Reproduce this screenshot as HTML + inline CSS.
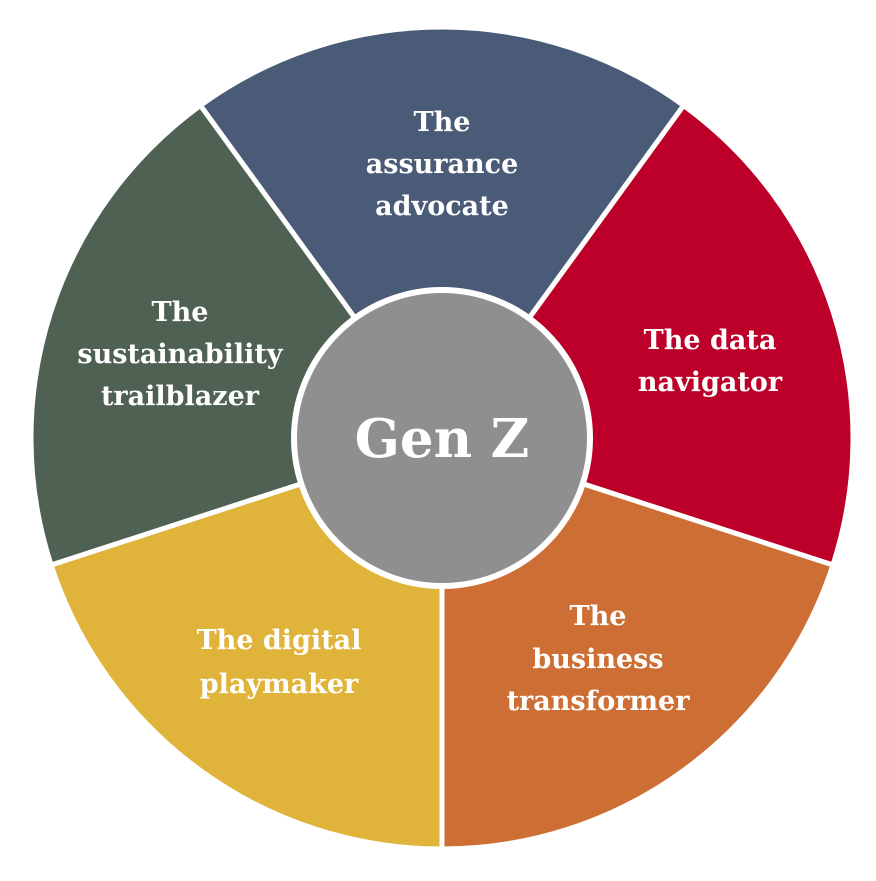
<!DOCTYPE html>
<html><head><style>body{margin:0;background:#fff}</style></head><body>
<svg width="876" height="876" viewBox="0 0 876 876" xmlns="http://www.w3.org/2000/svg">
<g stroke="#fff" stroke-width="5" stroke-linejoin="round">
<path d="M442,438 L200.4,105.5 A411,411 0 0 1 683.6,105.5 Z" fill="#4a5b78"/>
<path d="M442,438 L683.6,105.5 A411,411 0 0 1 832.9,565 Z" fill="#bd0029"/>
<path d="M442,438 L832.9,565 A411,411 0 0 1 442,849 Z" fill="#cd6f34"/>
<path d="M442,438 L442,849 A411,411 0 0 1 51.1,565 Z" fill="#e0b33a"/>
<path d="M442,438 L51.1,565 A411,411 0 0 1 200.4,105.5 Z" fill="#4f6153"/>
</g>
<circle cx="442" cy="438" r="148" fill="#8f8f8f" stroke="#fff" stroke-width="6"/>
<g fill="#fff" font-family="DejaVu Serif, Liberation Serif, serif" font-weight="bold" font-size="27" text-anchor="middle">
<text x="442" y="131">The</text><text x="442" y="173">assurance</text><text x="442" y="215">advocate</text>
<text x="710" y="349">The data</text><text x="710" y="391">navigator</text>
<text x="598" y="625">The</text><text x="598" y="668">business</text><text x="598" y="710">transformer</text>
<text x="279" y="649">The digital</text><text x="279" y="693">playmaker</text>
<text x="180" y="321">The</text><text x="180" y="363">sustainability</text><text x="180" y="405">trailblazer</text>
<text x="442" y="457" font-size="53">Gen Z</text>
</g>
</svg>
</body></html>
